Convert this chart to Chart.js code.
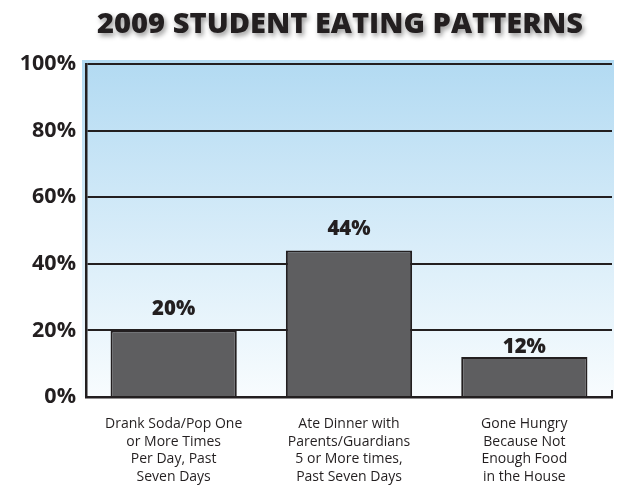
<!DOCTYPE html>
<html>
<head>
<meta charset="utf-8">
<script src="https://cdn.jsdelivr.net/npm/chart.js@4.4.1/dist/chart.umd.min.js"></script>
<style>
  html, body { margin: 0; padding: 0; background: #ffffff; }
  #wrap { width: 618px; height: 485px; position: relative; }
</style>
</head>
<body>
<div id="wrap"><canvas id="chart" width="618" height="485"></canvas></div>
<script>
// Survey categories (multi-line axis labels)
const categories = [
  ['Drank Soda/Pop One', 'or More Times', 'Per Day, Past', 'Seven Days'],
  ['Ate Dinner with', 'Parents/Guardians', '5 or More times,', 'Past Seven Days'],
  ['Gone Hungry', 'Because Not', 'Enough Food', 'in the House']
];
// Percent of students
const percentages = [20, 44, 12];
// Y axis tick values
const yTicks = [0, 20, 40, 60, 80, 100];
const chartTitle = '2009 STUDENT EATING PATTERNS';

const INK = '#231f20';

// Sky gradient behind the plot
const skyBackground = {
  id: 'skyBackground',
  beforeDraw(chart) {
    const { ctx, chartArea: a } = chart;
    const g = ctx.createLinearGradient(0, a.top - 4, 0, a.bottom);
    g.addColorStop(0, '#b2daf2');
    g.addColorStop(0.55, '#d9edf9');
    g.addColorStop(1, '#f8fcfe');
    ctx.save();
    ctx.fillStyle = g;
    ctx.fillRect(a.left - 4, a.top - 4, a.right - a.left + 6, a.bottom - a.top + 4);
    ctx.restore();
  }
};

// Heavy condensed title with a soft drop shadow
const shadowTitle = {
  id: 'shadowTitle',
  afterDraw(chart, args, opts) {
    const { ctx } = chart;
    ctx.save();
    ctx.font = '800 29px "Open Sans"';
    const w = ctx.measureText(opts.text).width;
    const sx = opts.width / w;
    ctx.translate(opts.x, opts.y);
    ctx.scale(sx, 1);
    ctx.textAlign = 'center';
    ctx.textBaseline = 'alphabetic';
    ctx.shadowColor = 'rgba(0,0,0,0.4)';
    ctx.shadowBlur = 5;
    ctx.shadowOffsetX = 2;
    ctx.shadowOffsetY = 3;
    ctx.fillStyle = INK;
    ctx.fillText(opts.text, 0, 0);
    ctx.restore();
  }
};

// Percent labels above each bar, plus the short end tick on the base line
const barValueLabels = {
  id: 'barValueLabels',
  afterDatasetsDraw(chart, args, opts) {
    const { ctx, chartArea: a } = chart;
    const meta = chart.getDatasetMeta(0);
    ctx.save();
    ctx.fillStyle = INK;
    ctx.textAlign = 'center';
    ctx.textBaseline = 'alphabetic';
    meta.data.forEach((bar, i) => {
      const v = chart.data.datasets[0].data[i];
      const gap = opts.gaps[i];
      ctx.save();
      ctx.font = '800 21px "Open Sans"';
      ctx.translate(bar.x, bar.y - gap);
      ctx.scale(0.97, 1);
      ctx.fillText(v + '%', 0, 0);
      ctx.restore();
    });
    ctx.strokeStyle = INK;
    ctx.lineWidth = 2;
    ctx.beginPath();
    ctx.moveTo(a.right, a.bottom + 1);
    ctx.lineTo(a.right, a.bottom - 7);
    ctx.stroke();
    ctx.restore();
  }
};

new Chart(document.getElementById('chart'), {
  type: 'bar',
  data: {
    labels: categories,
    datasets: [{
      data: percentages,
      backgroundColor: '#5e5e60',
      borderColor: INK,
      borderWidth: 2,
      borderSkipped: 'bottom',
      categoryPercentage: 1.0,
      barPercentage: 0.72
    }]
  },
  options: {
    responsive: false,
    animation: false,
    devicePixelRatio: 1,
    layout: { padding: { top: 64, right: 6, left: 0, bottom: 0 } },
    plugins: {
      legend: { display: false },
      title: { display: false },
      tooltip: { enabled: false },
      shadowTitle: { text: chartTitle, x: 340, y: 33, width: 486 },
      barValueLabels: { gaps: [15, 15, 4] }
    },
    scales: {
      x: {
        grid: { display: false, drawTicks: false },
        border: { display: true, color: INK, width: 2.5 },
        ticks: {
          color: INK,
          font: { family: '"Open Sans"', size: 14, lineHeight: 1.27 },
          padding: 18,
          maxRotation: 0,
          autoSkip: false
        },
        afterFit(scale) { scale.height = 88; }
      },
      y: {
        min: 0,
        max: 100,
        afterBuildTicks(scale) { scale.ticks = yTicks.map(v => ({ value: v })); },
        grid: { color: INK, lineWidth: 2, drawTicks: false },
        border: { display: true, color: INK, width: 2.5 },
        ticks: {
          color: INK,
          font: { family: '"Open Sans"', size: 21.5, weight: '700' },
          padding: 10,
          callback: v => v + '%'
        },
        afterFit(scale) { scale.width = 86; }
      }
    }
  },
  plugins: [skyBackground, shadowTitle, barValueLabels]
});
</script>
</body>
</html>
